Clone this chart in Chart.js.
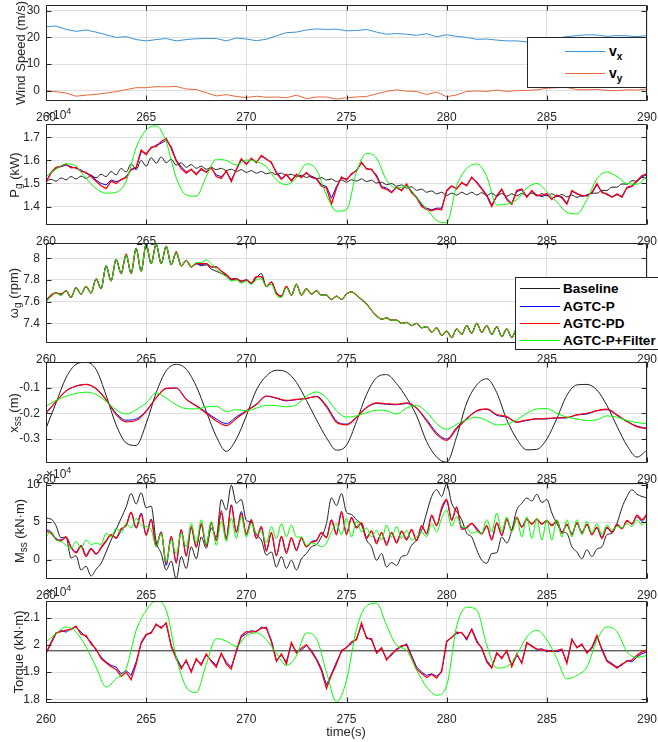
<!DOCTYPE html>
<html>
<head>
<meta charset="utf-8">
<title>AGTC comparison</title>
<script src="https://cdn.jsdelivr.net/npm/chart.js@4.4.1/dist/chart.umd.min.js"></script>
<style>
  html, body { margin: 0; padding: 0; background: #fff; }
  #fig { position: relative; width: 658px; height: 742px; overflow: hidden;
         font-family: "Liberation Sans", Arial, Helvetica, sans-serif; color: #262626; }
  .panel { position: absolute; left: 0; width: 658px; }
  .panel canvas { display: block; }
  .ylab { position: absolute; white-space: nowrap; font-size: 13px; line-height: 1;
          transform: translate(-50%, -50%) rotate(-90deg); }
  .ylab sub { font-size: 10px; vertical-align: -3px; line-height: 0; }
  .exp { position: absolute; left: 46px; font-size: 12px; line-height: 1; white-space: nowrap; }
  .exp sup { font-size: 9px; vertical-align: 5px; line-height: 0; }
  .xlab { position: absolute; left: 346px; top: 731px; font-size: 13px; line-height: 1;
          transform: translate(-50%, -50%); white-space: nowrap; }
  .legend { position: absolute; box-sizing: border-box; background: #fff; border: 1px solid #262626; z-index: 5; }
  .lrow { position: absolute; left: 0; display: flex; align-items: center; white-space: nowrap;
          font-weight: bold; color: #000; }
  .lline { display: inline-block; width: 40px; height: 0; border-top: 1px solid; }
  .lrow sub { font-size: 10px; vertical-align: -4px; line-height: 0; }
</style>
</head>
<body>
<div id="fig">
  <div class="legend" style="left:527px;top:37px;width:120px;height:51px">
    <div class="lrow" style="top:3px;height:20px;font-size:14px">
      <span class="lline" style="border-color:#3b92d4;margin-left:37px;margin-right:4px"></span><span>v<sub>x</sub></span>
    </div>
    <div class="lrow" style="top:25px;height:20px;font-size:14px">
      <span class="lline" style="border-color:#e4693e;margin-left:37px;margin-right:4px"></span><span>v<sub>y</sub></span>
    </div>
  </div>
  <div class="legend" style="left:515px;top:277px;width:160px;height:73px">
    <div class="lrow" style="top:1px;height:18px;font-size:13.5px">
      <span class="lline" style="border-color:#1e1e1e;margin-left:4px;margin-right:3px"></span>Baseline
    </div>
    <div class="lrow" style="top:19px;height:18px;font-size:13.5px">
      <span class="lline" style="border-color:#0000ff;margin-left:4px;margin-right:3px"></span>AGTC-P
    </div>
    <div class="lrow" style="top:36px;height:18px;font-size:13.5px">
      <span class="lline" style="border-color:#ff0000;margin-left:4px;margin-right:3px"></span>AGTC-PD
    </div>
    <div class="lrow" style="top:53px;height:18px;font-size:13.5px">
      <span class="lline" style="border-color:#00ff00;margin-left:4px;margin-right:3px"></span>AGTC-P+Filter
    </div>
  </div>
  <div class="xlab">time(s)</div>
</div>
<script>
// ---- axis ticks ----
const timeTicks = [260, 265, 270, 275, 280, 285, 290];
const windTicks = [0, 10, 20, 30];
const pgTicks = [1.4, 1.5, 1.6, 1.7];
const wgTicks = [7.4, 7.6, 7.8, 8];
const xssTicks = [-0.3, -0.2, -0.1];
const mssTicks = [0, 5, 10];
const torqueTicks = [1.8, 1.9, 2, 2.1];

// ---- wind speed (m/s), every 0.5 s ----
const windVx = [24,24.3,23,22.3,22.8,22,21,20,20.3,19.2,
  18.7,19.2,19.6,18.7,19.2,19.5,19.6,19.6,18.7,19.8,
  19.4,18.8,19.3,20.6,21.8,22,22.8,23.2,23,23.1,
  22.5,22.6,23,22,21.2,21.5,21.2,20.8,21.4,20.3,
  21,20.4,20,19.3,19.4,19,18.7,18.7,18.3,18.6,
  19.2,19.8,20.3,20.7,21,20.9,20.4,20.7,20.6,20.3,
  20.7];
const windVy = [0,-0.4,-0.9,-2.1,-1.7,-1.4,-0.9,-0.4,0.4,1.1,
  1.1,1.5,1.4,1.6,0.6,0.4,-0.8,-2,-1.5,-2.2,
  -2.6,-2.1,-2.5,-2.4,-2.7,-1.7,-3,-2.4,-2.4,-3.2,
  -2.7,-2.4,-2.2,-1.2,-0.3,0.3,-0.2,-0.3,-1.5,-0.5,
  -2.3,-1.6,-0.3,-0.1,-0.3,0.2,-0.3,0,0.1,0.3,
  0.9,1.1,1.2,0.4,0.3,0.5,0.1,0,0.3,0.2,
  0.6];

// ---- generator power (x10^4 kW), every 0.25 s (filter every 0.5 s) ----
const pgBaseline = [1.508,1.518,1.510,1.524,1.516,1.530,1.520,1.532,1.522,1.535,
  1.525,1.540,1.530,1.552,1.538,1.565,1.550,1.585,1.560,1.600,
  1.575,1.612,1.588,1.615,1.590,1.605,1.580,1.590,1.570,1.582,
  1.566,1.575,1.562,1.570,1.560,1.566,1.556,1.562,1.552,1.560,
  1.548,1.556,1.545,1.552,1.542,1.548,1.538,1.545,1.535,1.540,
  1.530,1.536,1.526,1.532,1.520,1.526,1.515,1.520,1.508,1.515,
  1.506,1.516,1.510,1.520,1.508,1.514,1.502,1.506,1.495,1.500,
  1.488,1.494,1.480,1.486,1.470,1.476,1.462,1.468,1.455,1.462,
  1.448,1.458,1.450,1.462,1.452,1.462,1.450,1.460,1.448,1.458,
  1.446,1.456,1.445,1.455,1.446,1.457,1.448,1.458,1.447,1.456,
  1.446,1.455,1.444,1.452,1.442,1.450,1.440,1.448,1.446,1.458,
  1.458,1.470,1.470,1.484,1.484,1.498,1.497,1.512,1.510,1.526,
  1.522];
const pgAgtcP = [1.508,1.544,1.566,1.573,1.58,1.573,1.566,1.559,1.544,1.537,
  1.515,1.5,1.494,1.515,1.508,1.515,1.53,1.559,1.566,1.638,
  1.631,1.652,1.667,1.674,1.688,1.66,1.602,1.573,1.551,1.559,
  1.544,1.559,1.551,1.566,1.537,1.53,1.551,1.515,1.559,1.602,
  1.588,1.605,1.595,1.616,1.609,1.588,1.551,1.523,1.537,1.515,
  1.537,1.53,1.544,1.53,1.523,1.494,1.487,1.436,
  1.487,1.523,1.52,1.537,1.559,1.588,1.566,1.559,1.537,1.487,
  1.48,1.465,1.48,1.472,1.494,1.465,1.443,1.407,1.393,1.386,
  1.393,1.393,1.465,1.487,1.48,1.5,1.494,1.523,1.508,1.48,
  1.451,1.407,1.443,1.472,1.436,1.414,1.465,1.472,1.443,1.465,
  1.451,1.443,1.451,1.436,1.445,1.443,1.414,1.465,1.458,1.443,
  1.451,1.458,1.494,1.465,1.451,1.443,1.451,1.445,1.48,1.487,
  1.508,1.53,1.537];
const pgAgtcPD = [1.505,1.548,1.57,1.575,1.585,1.568,1.57,1.552,1.548,1.53,
  1.51,1.49,1.478,1.51,1.5,1.518,1.525,1.562,1.57,1.645,
  1.625,1.658,1.66,1.682,1.695,1.652,1.598,1.565,1.545,1.562,
  1.538,1.565,1.548,1.57,1.53,1.522,1.555,1.508,1.562,1.608,
  1.582,1.61,1.59,1.622,1.605,1.592,1.545,1.518,1.54,1.51,
  1.54,1.525,1.548,1.526,1.52,1.488,1.48,1.41,
  1.48,1.528,1.515,1.542,1.555,1.592,1.562,1.562,1.53,1.482,
  1.475,1.46,1.485,1.468,1.498,1.46,1.438,1.4,1.388,1.382,
  1.39,1.386,1.47,1.49,1.476,1.505,1.49,1.528,1.504,1.476,
  1.446,1.4,1.448,1.476,1.43,1.41,1.47,1.476,1.44,1.47,
  1.446,1.448,1.456,1.43,1.45,1.438,1.41,1.47,1.455,1.448,
  1.446,1.462,1.5,1.46,1.455,1.44,1.455,1.44,1.484,1.49,
  1.512,1.534,1.542];
const pgFilter = [1.53,1.562,1.585,1.575,1.523,1.478,1.458,1.462,1.51,1.655,
  1.732,1.75,1.68,1.525,1.45,1.445,1.53,1.605,1.6,1.58,
  1.602,1.595,1.573,1.515,1.495,1.525,1.585,1.56,1.45,1.38,
  1.386,1.55,1.63,1.61,1.515,1.48,1.487,1.44,1.39,1.34,
  1.33,1.49,1.565,1.585,1.53,1.407,1.41,1.43,1.48,1.5,
  1.465,1.42,1.375,1.368,1.43,1.52,1.55,1.53,1.5,1.497,
  1.53];

// ---- generator speed (rpm), every 0.25 s ----
const wgBaseline = [7.60,7.65,7.68,7.66,7.70,7.64,7.73,7.67,7.74,7.68,
  7.81,7.72,7.93,7.79,7.99,7.86,8.03,7.86,8.09,7.88,
  8.13,7.95,8.13,7.95,8.11,7.94,8.05,7.93,7.98,7.92,
  7.95,7.93,7.94,7.90,7.88,7.86,7.84,7.80,7.81,7.78,
  7.80,7.77,7.82,7.86,7.74,7.78,7.68,7.65,7.74,7.66,
  7.76,7.66,7.72,7.67,7.70,7.66,7.66,7.62,7.65,7.62,
  7.67,7.69,7.66,7.62,7.58,7.52,7.47,7.44,7.45,7.43,
  7.43,7.40,7.41,7.38,7.40,7.36,7.37,7.32,7.36,7.29,
  7.33,7.27,7.35,7.30,7.38,7.31,7.40,7.32,7.38,7.30,
  7.37,7.28,7.35,7.27,7.35,7.30,7.34,7.29,7.34,7.30,
  7.35,7.30,7.35,7.31,7.35,7.31,7.34,7.30,7.34,7.31,
  7.35,7.31,7.34,7.30,7.33,7.30,7.34,7.31,7.33,7.30,
  7.32];
const wgAgtcP = [7.61,7.66,7.68,7.67,7.70,7.64,7.73,7.67,7.74,7.68,
  7.81,7.72,7.93,7.79,7.99,7.86,8.03,7.86,8.09,7.88,
  8.13,7.95,8.13,7.95,8.11,7.94,8.05,7.93,7.98,7.92,
  7.95,7.94,7.95,7.92,7.92,7.88,7.85,7.81,7.81,7.79,
  7.80,7.77,7.83,7.83,7.74,7.78,7.68,7.65,7.74,7.66,
  7.76,7.66,7.72,7.67,7.70,7.66,7.66,7.62,7.65,7.62,
  7.67,7.69,7.66,7.62,7.58,7.52,7.47,7.44,7.45,7.43,
  7.43,7.40,7.41,7.38,7.40,7.36,7.37,7.32,7.36,7.29,
  7.33,7.27,7.35,7.30,7.38,7.31,7.40,7.32,7.38,7.30,
  7.37,7.28,7.35,7.27,7.35,7.30,7.34,7.29,7.34,7.30,
  7.35,7.30,7.35,7.31,7.35,7.31,7.34,7.30,7.34,7.31,
  7.35,7.31,7.34,7.30,7.33,7.30,7.34,7.31,7.33,7.30,
  7.32];
const wgAgtcPD = [7.61,7.66,7.68,7.67,7.70,7.64,7.73,7.67,7.74,7.68,
  7.81,7.72,7.93,7.79,7.99,7.86,8.04,7.86,8.09,7.88,
  8.13,7.95,8.13,7.95,8.11,7.94,8.06,7.93,7.98,7.92,
  7.95,7.95,7.95,7.92,7.92,7.88,7.85,7.81,7.81,7.79,
  7.80,7.77,7.83,7.83,7.74,7.78,7.68,7.65,7.74,7.66,
  7.76,7.66,7.72,7.67,7.70,7.66,7.66,7.62,7.65,7.62,
  7.67,7.69,7.66,7.62,7.58,7.52,7.47,7.44,7.45,7.43,
  7.43,7.40,7.41,7.38,7.40,7.36,7.37,7.32,7.36,7.29,
  7.33,7.27,7.35,7.30,7.38,7.31,7.40,7.32,7.38,7.30,
  7.37,7.28,7.35,7.27,7.35,7.30,7.34,7.29,7.34,7.30,
  7.35,7.30,7.35,7.31,7.35,7.31,7.34,7.30,7.34,7.31,
  7.35,7.31,7.34,7.30,7.33,7.30,7.34,7.31,7.33,7.30,
  7.32];
const wgFilter = [7.60,7.65,7.68,7.66,7.70,7.64,7.73,7.67,7.74,7.68,
  7.81,7.72,7.93,7.79,7.99,7.86,8.03,7.86,8.09,7.88,
  8.13,7.95,8.13,7.95,8.11,7.94,8.05,7.93,7.98,7.92,
  7.96,7.96,7.985,7.95,7.90,7.86,7.83,7.79,7.80,7.77,
  7.79,7.76,7.80,7.81,7.74,7.76,7.66,7.64,7.73,7.66,
  7.76,7.66,7.72,7.67,7.70,7.66,7.66,7.62,7.65,7.62,
  7.67,7.69,7.66,7.62,7.58,7.52,7.47,7.44,7.45,7.43,
  7.43,7.40,7.41,7.38,7.40,7.36,7.37,7.32,7.36,7.29,
  7.33,7.27,7.35,7.30,7.38,7.31,7.40,7.32,7.38,7.30,
  7.37,7.28,7.35,7.27,7.35,7.30,7.34,7.29,7.34,7.30,
  7.35,7.30,7.35,7.31,7.35,7.31,7.34,7.30,7.34,7.31,
  7.35,7.31,7.34,7.30,7.33,7.30,7.34,7.31,7.33,7.30,
  7.32];

// ---- side-side tower displacement (m), every 0.5 s ----
const xssBaseline = [-0.258,-0.16,-0.062,-0.01,-0.002,-0.03,-0.13,-0.245,-0.315,-0.325,
  -0.24,-0.12,-0.035,-0.01,-0.029,-0.095,-0.193,-0.29,-0.348,-0.3,
  -0.21,-0.11,-0.055,-0.033,-0.04,-0.08,-0.15,-0.225,-0.295,-0.343,
  -0.324,-0.232,-0.127,-0.062,-0.05,-0.085,-0.14,-0.21,-0.31,-0.37,
  -0.39,-0.29,-0.16,-0.09,-0.066,-0.12,-0.225,-0.3,-0.342,-0.34,
  -0.3,-0.22,-0.13,-0.09,-0.088,-0.11,-0.17,-0.25,-0.325,-0.37,
  -0.343];
const xssAgtcP = [-0.199,-0.154,-0.114,-0.095,-0.088,-0.104,-0.147,-0.2,-0.227,-0.222,
  -0.19,-0.14,-0.104,-0.102,-0.145,-0.17,-0.196,-0.222,-0.24,-0.214,
  -0.19,-0.165,-0.134,-0.142,-0.152,-0.147,-0.143,-0.134,-0.17,-0.23,
  -0.242,-0.215,-0.178,-0.162,-0.165,-0.167,-0.162,-0.18,-0.225,-0.275,
  -0.3,-0.255,-0.22,-0.192,-0.185,-0.208,-0.215,-0.235,-0.228,-0.222,
  -0.222,-0.218,-0.218,-0.206,-0.203,-0.19,-0.186,-0.208,-0.232,-0.25,
  -0.258];
const xssAgtcPD = [-0.2,-0.155,-0.113,-0.094,-0.088,-0.105,-0.148,-0.205,-0.233,-0.228,
  -0.193,-0.14,-0.103,-0.102,-0.146,-0.172,-0.2,-0.23,-0.248,-0.22,
  -0.192,-0.166,-0.133,-0.14,-0.15,-0.146,-0.142,-0.135,-0.175,-0.235,
  -0.245,-0.216,-0.178,-0.16,-0.163,-0.165,-0.16,-0.18,-0.23,-0.282,
  -0.305,-0.26,-0.222,-0.19,-0.183,-0.205,-0.213,-0.234,-0.226,-0.222,
  -0.22,-0.218,-0.216,-0.206,-0.2,-0.19,-0.184,-0.206,-0.232,-0.252,
  -0.26];
const xssFilter = [-0.173,-0.15,-0.134,-0.123,-0.118,-0.127,-0.154,-0.186,-0.203,-0.186,
  -0.16,-0.121,-0.141,-0.167,-0.182,-0.183,-0.175,-0.173,-0.193,-0.186,
  -0.19,-0.18,-0.169,-0.17,-0.175,-0.167,-0.134,-0.117,-0.14,-0.19,
  -0.215,-0.21,-0.198,-0.188,-0.19,-0.203,-0.18,-0.17,-0.195,-0.24,
  -0.262,-0.243,-0.225,-0.215,-0.228,-0.245,-0.242,-0.225,-0.2,-0.183,
  -0.182,-0.2,-0.215,-0.222,-0.228,-0.225,-0.21,-0.215,-0.228,-0.236,
  -0.24];

// ---- side-side tower moment (x10^4 kN.m), every 0.25 s ----
const mssBaseline = [5.5,5.4,4.5,2.9,3.0,0.2,0.5,-1.4,-0.9,-2.2,
  -1.3,-0.5,1.0,2.6,4.0,5.5,7.0,8.8,7.4,8.9,
  6.9,7.1,2.4,0.8,-1.4,-0.2,-2.6,0.4,-1.2,1.7,
  0.1,3.0,1.5,4.2,3.0,8.0,6.6,9.9,7.5,8.0,
  5.2,5.0,3.3,2.6,0.6,1.0,-1.0,0.4,-1.2,-0.1,
  -1.4,0.1,0.8,1.7,2.0,3.0,4.8,8.2,7.2,8.8,
  6.3,6.0,5.3,4.6,2.6,1.7,-0.1,0.8,-1.0,-0.4,
  -0.8,0.4,0.6,1.9,2.6,3.9,6.2,8.4,9.3,8.4,
  10.1,7.5,6.4,5.3,3.5,3.0,1.3,-0.1,-0.5,0.8,
  0.9,3.0,2.2,3.9,6.6,7.5,8.2,7.8,8.7,7.6,
  8.0,6.2,4.8,3.7,3.5,1.7,1.0,0.1,1.3,0.4,
  1.4,1.7,3.3,3.5,4.8,6.9,8.4,9.3,8.7,8.4,
  8.2];
const mssAgtcP = [4.0,3.7,2.8,2.6,3.0,1.7,1.0,1.9,0.6,1.5,
  0.8,1.5,2.4,3.3,2.8,3.9,4.6,6.2,4.2,6.2,
  3.3,5.4,1.9,3.7,-0.8,3.0,-0.3,3.9,0.6,4.2,
  1.7,4.6,1.9,4.8,2.6,6.2,2.8,7.3,3.7,6.4,
  3.3,5.1,2.8,4.2,1.3,3.5,0.6,3.0,1.0,2.8,
  1.3,2.8,1.7,2.4,2.6,3.5,3.0,5.3,
  3.5,6.2,3.5,5.5,4.4,4.8,3.0,3.7,2.4,3.5,
  2.2,3.5,2.4,3.7,2.8,3.9,2.6,4.4,3.5,5.7,
  4.6,6.6,7.8,5.3,6.9,4.2,4.2,4.8,4.2,3.5,
  4.4,2.8,4.8,3.3,5.3,3.9,5.5,4.4,5.3,4.8,
  5.3,4.8,5.1,4.6,5.1,3.7,4.6,3.5,4.8,3.7,
  4.6,3.5,4.2,3.0,4.2,3.7,4.6,4.2,5.1,4.8,
  5.7,5.1,6.0];
const mssAgtcPD = [3.8,3.5,2.7,2.5,3.0,1.6,0.9,1.8,0.4,1.4,
  0.7,1.6,2.5,3.3,2.9,4.1,4.5,6.3,4.2,6.0,
  3.2,5.3,1.8,3.6,-0.5,3.1,-0.5,4.0,0.4,4.4,
  1.6,4.8,1.8,4.9,2.5,6.5,2.7,7.2,3.6,6.1,
  3.4,5.3,2.8,4.4,1.1,3.6,0.5,3.1,0.8,2.9,
  1.2,2.9,1.7,2.3,2.5,3.6,2.9,5.2,
  3.3,6.4,3.3,5.6,4.2,4.9,2.8,3.8,2.1,3.6,
  1.9,3.6,2.2,3.8,2.6,4.0,2.5,4.5,3.4,5.9,
  4.5,6.9,8.0,5.2,7.0,4.0,4.3,4.8,4.0,3.4,
  4.5,2.6,4.9,3.2,5.4,3.8,5.6,4.3,5.4,4.7,
  5.4,4.7,5.2,4.5,5.2,3.5,4.7,3.3,4.9,3.5,
  4.7,3.3,4.3,2.8,4.3,3.6,4.7,4.1,5.2,4.7,
  5.9,5.3,6.1];
const mssFilter = [3.0,3.7,2.6,2.4,1.9,1.5,2.4,1.5,2.6,2.0,
  2.2,2.0,3.5,3.0,4.2,3.5,4.8,4.2,5.5,4.6,
  4.4,4.0,1.7,3.5,-0.3,2.6,0.8,3.5,1.7,4.8,
  2.2,5.3,2.0,5.1,1.9,5.1,2.4,5.5,2.8,5.7,
  3.0,4.8,3.5,3.7,2.2,4.4,2.8,4.8,3.0,4.6,
  3.0,3.0,1.9,2.2,2.0,1.7,2.2,3.7,
  4.8,3.3,5.5,3.0,5.1,3.7,4.2,3.0,3.9,2.6,
  4.6,3.0,4.4,2.8,3.9,2.6,3.0,3.7,3.0,4.8,
  3.7,5.5,6.6,4.4,5.7,4.4,4.2,3.5,3.7,3.5,
  5.3,3.7,6.2,3.7,5.7,3.7,5.5,3.0,5.7,2.8,
  5.5,2.6,5.3,2.6,5.3,3.0,5.3,3.0,5.3,3.3,
  5.1,3.5,4.8,3.3,4.6,3.9,4.4,4.2,4.8,4.4,
  5.3,4.6,5.3];

// ---- generator torque (x10^4 kN.m), every 0.25 s (filter every 0.5 s) ----
const tqBaseline = [1.979, 1.979];
const tqAgtcP = [1.968,2.005,2.042,2.054,2.048,2.061,2.067,2.048,2.03,2.011,
  1.981,1.956,1.938,1.925,1.919,1.894,1.906,1.888,1.938,2.005,
  2.036,2.048,2.073,2.067,2.079,1.999,1.956,1.919,1.938,1.906,
  1.944,1.932,1.962,1.944,1.925,1.968,1.938,1.919,1.975,2.03,
  2.042,2.054,2.048,2.067,2.061,2.018,1.944,1.962,1.938,2.005,
  1.975,1.981,1.999,1.981,1.95,1.913,1.852,1.894,
  1.938,1.975,1.993,2.005,2.024,2.073,2.03,2.018,1.975,1.987,
  1.95,1.962,1.987,1.993,2.005,1.962,1.919,1.9,1.888,1.894,
  1.885,1.9,2.011,2.03,2.042,2.048,2.018,2.061,2.018,1.987,
  1.944,1.919,1.968,1.956,1.975,1.925,1.962,1.938,2.005,1.999,
  1.981,1.987,1.975,1.981,1.975,1.981,1.938,2.018,1.993,1.999,
  1.975,1.987,2.03,1.987,1.944,1.932,1.919,1.925,1.944,1.938,
  1.956,1.968,1.975];
const tqAgtcPD = [1.97,2.01,2.045,2.05,2.055,2.058,2.07,2.04,2.035,2.005,
  1.985,1.95,1.935,1.92,1.91,1.885,1.9,1.872,1.93,2.01,
  2.04,2.044,2.078,2.062,2.083,1.995,1.95,1.912,1.945,1.9,
  1.95,1.926,1.968,1.94,1.918,1.97,1.93,1.912,1.98,2.035,
  2.05,2.048,2.052,2.062,2.066,2.012,1.94,1.968,1.93,2.01,
  1.97,1.988,2.002,1.975,1.946,1.905,1.84,1.89,
  1.93,1.98,1.99,2.012,2.02,2.082,2.025,2.024,1.97,1.99,
  1.945,1.968,1.982,1.998,2.0,1.955,1.912,1.895,1.88,1.892,
  1.878,1.905,2.015,2.028,2.048,2.045,2.024,2.058,2.012,1.99,
  1.938,1.915,1.972,1.95,1.98,1.92,1.968,1.932,2.01,1.995,
  1.986,1.982,1.98,1.976,1.98,1.985,1.932,2.022,1.99,2.004,
  1.97,1.992,2.036,1.982,1.94,1.928,1.915,1.93,1.94,1.945,
  1.962,1.975,1.982];
const tqFilter = [2.011,2.042,2.067,2.048,1.993,1.919,1.845,1.876,1.913,2.054,
  2.128,2.163,2.13,1.956,1.845,1.825,1.93,2.024,2.015,1.995,
  2.035,2.045,2.02,1.97,1.925,1.96,2.045,2.024,1.9,1.79,
  1.87,2.06,2.145,2.155,2.073,1.999,1.981,1.907,1.845,1.815,
  1.85,2.07,2.14,2.13,2.0,1.915,1.92,1.965,2.03,2.055,
  2.02,1.95,1.875,1.888,1.919,2.018,2.067,2.05,1.975,1.955,
  1.962];

// ---- sample times ----
function steps(a, b, d) {
  const out = [];
  for (let i = 0; a + i * d <= b + 1e-9; i++) out.push(+(a + i * d).toFixed(2));
  return out;
}
const tHalf = steps(260, 290, 0.5);
const tQuarter = steps(260, 290, 0.25);
const tEnds = [260, 290];

const FONT = '"Liberation Sans", Arial, Helvetica, sans-serif';
const INK = '#262626';
const GRID = 'rgba(38,38,38,0.14)';
const C = { base: '#1e1e1e', p: '#0000ff', pd: '#ff0000', filt: '#00ff00', vx: '#3b92d4', vy: '#e4693e' };

Chart.defaults.font.family = FONT;
Chart.defaults.color = INK;

function pts(times, values) {
  return values.map((v, i) => ({ x: times[i], y: v }));
}

// smooth: true for the signals that are smooth in the original (no sensor noise)
function fourSeries(base, baseT, baseSmooth, p, pd, pSmooth, filt, filtT) {
  return [
    { label: 'Baseline', t: baseT, v: base, color: C.base, order: 3, width: 1, smooth: baseSmooth },
    { label: 'AGTC-P', t: tQuarter, v: p, color: C.p, order: 2, width: 1, smooth: pSmooth },
    { label: 'AGTC-PD', t: tQuarter, v: pd, color: C.pd, order: 1, width: 1.3, smooth: pSmooth },
    { label: 'AGTC-P+Filter', t: filtT, v: filt, color: C.filt, order: 0, width: 1, smooth: true }
  ];
}

const panels = [
  { top: 5, bottom: 101, yMin: -3.9, yMax: 32.2, yTicks: windTicks,
    title: 'Wind Speed (m/s)', titleX: 20,
    series: [
      { label: 'vx', t: tHalf, v: windVx, color: C.vx, order: 1, width: 1 },
      { label: 'vy', t: tHalf, v: windVy, color: C.vy, order: 0, width: 1 }
    ] },
  { top: 124, bottom: 225, yMin: 1.32, yMax: 1.758, yTicks: pgTicks, exp: true,
    title: 'P<sub>g</sub> (kW)', titleX: 14,
    series: fourSeries(pgBaseline, tQuarter, true, pgAgtcP, pgAgtcPD, false, pgFilter, tHalf) },
  { top: 243, bottom: 343, yMin: 7.22, yMax: 8.14, yTicks: wgTicks,
    title: '&omega;<sub>g</sub> (rpm)', titleX: 13,
    series: fourSeries(wgBaseline, tQuarter, true, wgAgtcP, wgAgtcPD, true, wgFilter, tQuarter) },
  { top: 362, bottom: 463, yMin: -0.393, yMax: -0.001, yTicks: xssTicks,
    title: 'x<sub>ss</sub> (m)', titleX: 13,
    series: [
      { label: 'Baseline', t: tHalf, v: xssBaseline, color: C.base, order: 3, width: 1, smooth: true },
      { label: 'AGTC-P', t: tHalf, v: xssAgtcP, color: C.p, order: 2, width: 1, smooth: true },
      { label: 'AGTC-PD', t: tHalf, v: xssAgtcPD, color: C.pd, order: 1, width: 1.2, smooth: true },
      { label: 'AGTC-P+Filter', t: tHalf, v: xssFilter, color: C.filt, order: 0, width: 1, smooth: true }
    ] },
  { top: 483, bottom: 579, yMin: -2.6, yMax: 10.2, yTicks: mssTicks, exp: true,
    title: 'M<sub>ss</sub> (kN&middot;m)', titleX: 19,
    series: fourSeries(mssBaseline, tQuarter, true, mssAgtcP, mssAgtcPD, true, mssFilter, tQuarter) },
  { top: 601, bottom: 703, yMin: 1.786, yMax: 2.163, yTicks: torqueTicks, exp: true,
    title: 'Torque (kN&middot;m)', titleX: 18,
    series: fourSeries(tqBaseline, tEnds, false, tqAgtcP, tqAgtcPD, false, tqFilter, tHalf) }
];

// box around the plot area with inward tick marks, like the original figure
const axesBox = {
  id: 'axesBox',
  afterDatasetsDraw(chart) {
    const { ctx, chartArea: a } = chart;
    const xs = chart.scales.x, ys = chart.scales.y;
    const L = Math.round(a.left) + 0.5, R = Math.round(a.right) - 0.5;
    const T = Math.round(a.top) + 0.5, B = Math.round(a.bottom) - 0.5;
    ctx.save();
    ctx.strokeStyle = INK;
    ctx.lineWidth = 1;
    ctx.beginPath();
    ctx.rect(L, T, R - L, B - T);
    xs.ticks.forEach(t => {
      const x = Math.round(xs.getPixelForValue(t.value)) + 0.5;
      ctx.moveTo(x, B); ctx.lineTo(x, B - 5);
      ctx.moveTo(x, T); ctx.lineTo(x, T + 5);
    });
    ys.ticks.forEach(t => {
      const y = Math.round(ys.getPixelForValue(t.value)) + 0.5;
      ctx.moveTo(L, y); ctx.lineTo(L + 5, y);
      ctx.moveTo(R, y); ctx.lineTo(R - 5, y);
    });
    ctx.stroke();
    ctx.restore();
  }
};

const fig = document.getElementById('fig');
const PAD_TOP = 5, AXIS_H = 24, Y_W = 46, RIGHT_PAD = 11;

panels.forEach(p => {
  const h = PAD_TOP + (p.bottom - p.top) + AXIS_H;
  const wrap = document.createElement('div');
  wrap.className = 'panel';
  wrap.style.top = (p.top - PAD_TOP) + 'px';
  wrap.style.height = h + 'px';
  const cv = document.createElement('canvas');
  cv.width = 658;
  cv.height = h;
  wrap.appendChild(cv);
  fig.insertBefore(wrap, fig.firstChild);

  new Chart(cv, {
    type: 'line',
    data: {
      datasets: p.series.map(s => ({
        label: s.label,
        data: pts(s.t, s.v),
        borderColor: s.color,
        backgroundColor: s.color,
        borderWidth: s.width,
        pointRadius: 0,
        cubicInterpolationMode: s.smooth ? 'monotone' : 'default',
        tension: 0,
        fill: false,
        order: s.order
      }))
    },
    options: {
      responsive: false,
      animation: false,
      devicePixelRatio: 1,
      events: [],
      layout: { padding: { left: 0, right: RIGHT_PAD, top: PAD_TOP, bottom: 0 } },
      plugins: { legend: { display: false }, tooltip: { enabled: false } },
      scales: {
        x: {
          type: 'linear', min: 260, max: 290,
          afterBuildTicks: s => { s.ticks = timeTicks.map(v => ({ value: v })); },
          afterFit: s => { s.height = AXIS_H; s.paddingLeft = 0; s.paddingRight = 0; },
          grid: { color: GRID, drawTicks: false },
          border: { display: false },
          ticks: { color: INK, font: { size: 12 }, padding: 9, maxRotation: 0, autoSkip: false }
        },
        y: {
          type: 'linear', min: p.yMin, max: p.yMax,
          afterBuildTicks: s => { s.ticks = p.yTicks.map(v => ({ value: v })); },
          afterFit: s => { s.width = Y_W; s.paddingTop = 0; s.paddingBottom = 0; },
          grid: { color: GRID, drawTicks: false },
          border: { display: false },
          ticks: { color: INK, font: { size: 12 }, padding: 6,
                   callback: v => String(+(+v).toFixed(2)) }
        }
      }
    },
    plugins: [axesBox]
  });

  const lab = document.createElement('div');
  lab.className = 'ylab';
  lab.innerHTML = p.title;
  lab.style.left = p.titleX + 'px';
  lab.style.top = ((p.top + p.bottom) / 2) + 'px';
  fig.appendChild(lab);

  if (p.exp) {
    const e = document.createElement('div');
    e.className = 'exp';
    e.innerHTML = '&times;10<sup>4</sup>';
    e.style.top = (p.top - 15) + 'px';
    fig.appendChild(e);
  }
});
</script>
</body>
</html>
